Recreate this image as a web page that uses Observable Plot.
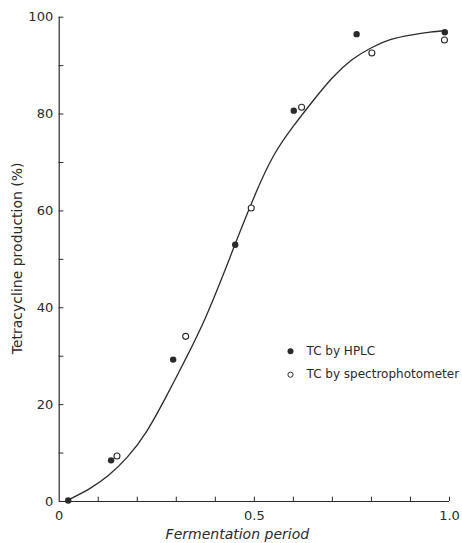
<!DOCTYPE html>
<html><head><meta charset="utf-8">
<script src="https://cdn.jsdelivr.net/npm/d3@7"></script>
<script src="https://cdn.jsdelivr.net/npm/@observablehq/plot@0.6"></script>
<style>body{margin:0;background:#fff}#chart svg{display:block}</style>
</head><body><div id="chart"></div>
<script>
// HPLC (filled) points
const hplcX = [0.023, 0.133, 0.292, 0.451, 0.601, 0.762, 0.988];
const hplcY = [0.2, 8.5, 29.3, 53.0, 80.7, 96.5, 96.9];
// Spectrophotometer (open) points
const specX = [0.148, 0.324, 0.492, 0.621, 0.801, 0.987];
const specY = [9.4, 34.1, 60.6, 81.4, 92.6, 95.3];
// Fitted curve
const curveX = [0.025, 0.075, 0.125, 0.175, 0.225, 0.275, 0.325, 0.375, 0.425, 0.45, 0.5, 0.55, 0.6, 0.65, 0.7, 0.75, 0.8, 0.85, 0.9, 0.95, 0.99];
const curveY = [0.4, 2.5, 5.3, 9.2, 14.6, 21.8, 29.6, 38.0, 47.8, 53.0, 63.0, 71.5, 77.5, 82.7, 87.5, 91.2, 93.7, 95.4, 96.3, 96.9, 97.2];
// Axis ticks and labels
const xTickLabels = [0, 0.5, 1.0];
const xTickText = ["0", "0.5", "1.0"];
const xTicks = [0.1, 0.2, 0.3, 0.4, 0.5, 0.6, 0.7, 0.8, 0.9, 1.0];
const yTickLabels = [0, 20, 40, 60, 80, 100];
const yTicks = [10, 20, 30, 40, 50, 60, 70, 80, 90, 100];
const legendLabels = ["TC by HPLC", "TC by spectrophotometer"];
const xTitle = "Fermentation period";
const yTitle = "Tetracycline production (%)";

const hplc = hplcX.map((x, i) => ({x, y: hplcY[i]}));
const spec = specX.map((x, i) => ({x, y: specY[i]}));
const curve = curveX.map((x, i) => ({x, y: curveY[i]}));
const ink = "#2a2a2a";
const font = "DejaVu Sans, sans-serif";

const chart = Plot.plot({
  width: 462, height: 543,
  marginLeft: 58.7, marginRight: 13, marginTop: 16.7, marginBottom: 42,
  style: {fontFamily: font, background: "#fff", color: ink},
  x: {domain: [0, 1], axis: null},
  y: {domain: [0, 100], axis: null},
  marks: [
    Plot.ruleX([0], {stroke: ink, strokeWidth: 1.2}),
    Plot.ruleY([0], {stroke: ink, strokeWidth: 1.2}),
    Plot.ruleX(xTicks, {x: d => d, y1: 0, y2: 0.9, stroke: ink, strokeWidth: 1}),
    Plot.ruleY(yTicks, {y: d => d, x1: 0, x2: 0.012, stroke: ink, strokeWidth: 1}),
    Plot.text(xTickLabels, {x: d => d, text: (d, i) => xTickText[i], frameAnchor: "bottom", textAnchor: "middle", dy: 14, lineAnchor: "middle", fontSize: 13, letterSpacing: 1, fill: ink}),
    Plot.text(yTickLabels, {y: d => d, text: d => String(d), frameAnchor: "left", textAnchor: "end", dx: -6, lineAnchor: "middle", fontSize: 13, letterSpacing: 1, fill: ink}),
    Plot.text([xTitle], {frameAnchor: "bottom", textAnchor: "middle", dx: -17, dy: 33, lineAnchor: "middle", fontSize: 14, fontStyle: "italic", letterSpacing: 1.6, fill: ink}),
    Plot.text([yTitle], {frameAnchor: "left", textAnchor: "middle", dx: -42, dy: -1, rotate: -90, lineAnchor: "middle", fontSize: 14, letterSpacing: 1.6, fill: ink}),
    Plot.line(curve, {x: "x", y: "y", curve: "natural", stroke: ink, strokeWidth: 1.3}),
    Plot.dot(hplc, {x: "x", y: "y", r: 3.2, fill: ink, stroke: "none"}),
    Plot.dot(spec, {x: "x", y: "y", r: 3, fill: "#fff", stroke: ink, strokeWidth: 1.1}),
    Plot.dot([legendLabels[0]], {frameAnchor: "top-left", dx: 231.3, dy: 334, r: 3, fill: ink, stroke: "none"}),
    Plot.dot([legendLabels[1]], {frameAnchor: "top-left", dx: 231.3, dy: 357.5, r: 2.6, fill: "#fff", stroke: ink, strokeWidth: 1}),
    Plot.text([legendLabels[0]], {text: d => d, frameAnchor: "top-left", dx: 247.3, dy: 333.5, lineAnchor: "middle", textAnchor: "start", fontSize: 12, letterSpacing: 1.6, fill: ink}),
    Plot.text([legendLabels[1]], {text: d => d, frameAnchor: "top-left", dx: 247.3, dy: 357, lineAnchor: "middle", textAnchor: "start", fontSize: 12, letterSpacing: 0.2, fill: ink})
  ]
});
document.getElementById("chart").appendChild(chart);
</script>
</body></html>
